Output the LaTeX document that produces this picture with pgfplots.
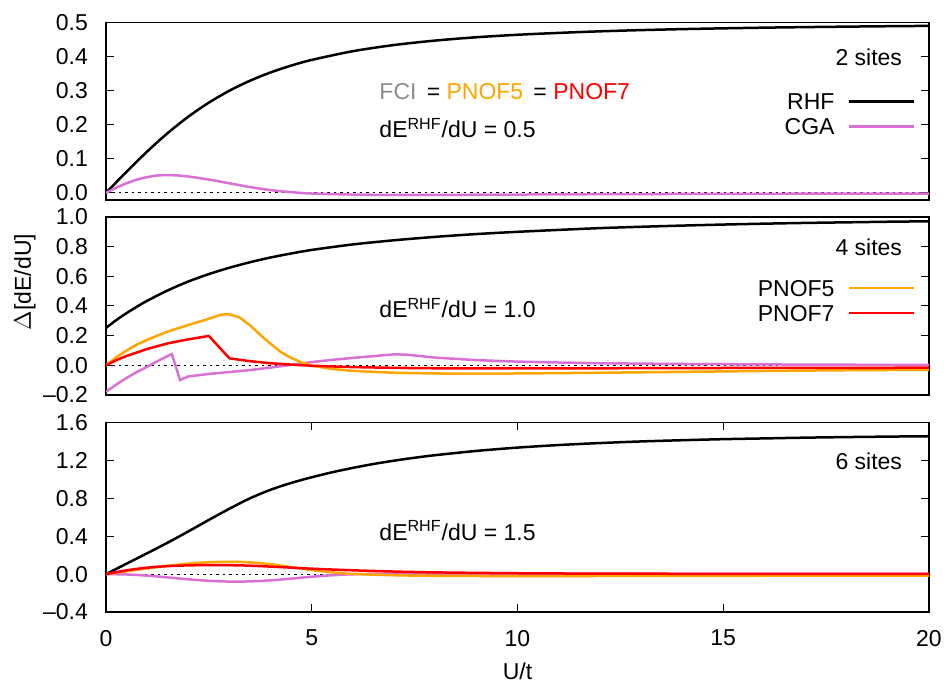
\documentclass[border=0pt]{standalone}
\usepackage{fontspec}
\setmainfont{Liberation Sans}
\usepackage{pgfplots}
\pgfplotsset{compat=1.18}
\definecolor{cga}{HTML}{DA70D6}
\definecolor{pnf}{HTML}{FFA500}
\definecolor{pns}{HTML}{FF0000}
\definecolor{fci}{HTML}{8C8C8C}
\pgfplotsset{
  panel/.style={
    scale only axis, width=411.5pt, xmin=0, xmax=20,
    axis line style={line width=0.8pt},
    tick style={black, line width=0.5pt},
    major tick length=4pt,
    tick align=inside,
    /pgf/number format/assume math mode=true,
    yticklabel style={xshift=-5pt},
    xticklabel style={yshift=-5pt},
    legend plot pos=right,
    legend cell align=right,
    legend style={draw=none, fill=none, inner sep=0pt, outer sep=0pt,
      row sep=2.3pt, column sep=5.5pt,
      nodes={inner sep=1pt, text height=8.2pt, text depth=0pt}},
    legend image code/.code={\draw[##1] (0pt,0pt) -- (32.5pt,0pt);},
    every axis plot/.append style={line width=1.25pt},
  }
}
\begin{document}
\fontsize{11.5}{14}\selectfont
\begin{tikzpicture}
\useasboundingbox (-53pt,-36.5pt) rectangle (421.5pt,306pt);
% ---------------- panel 1: 2 sites
\begin{axis}[panel, at={(0pt,206pt)}, anchor=south west, height=88.7pt,
  ymin=-0.021, ymax=0.5, xtick=\empty,
  ytick={0,0.1,0.2,0.3,0.4,0.5}, yticklabels={0.0,0.1,0.2,0.3,0.4,0.5},
  legend style={at={(axis description cs:1,1)}, anchor=north east, xshift=-7pt, yshift=-34.4pt}]
\addplot[black, dotted, line width=0.5pt, forget plot] coordinates {(0,0) (20,0)};
\addplot[black, smooth] coordinates {(0,0) (0.25,0.0312) (0.5,0.062) (1,0.1213) (1.5,0.1756) (2,0.2236) (2.5,0.265) (3,0.3) (3.5,0.3293) (4,0.3536) (4.5,0.3737) (5,0.3904) (6,0.416) (7,0.4341) (8,0.4472) (9,0.4569) (10,0.4642) (11,0.4697) (12,0.4743) (13,0.4779) (14,0.4808) (15,0.4831) (16,0.4851) (17,0.4867) (18,0.4881) (19,0.4893) (20,0.4903)};
\addlegendentry{RHF}
\addplot[cga, smooth] coordinates {(0,0) (0.25,0.015) (0.5,0.028) (0.75,0.039) (1,0.046) (1.25,0.051) (1.5,0.052) (1.75,0.051) (2,0.048) (2.5,0.039) (3,0.028) (3.5,0.017) (4,0.008) (4.5,0.002) (5,-0.002) (6,-0.005) (7,-0.006) (8,-0.006) (10,-0.005) (12,-0.004) (15,-0.003) (20,-0.002)};
\addlegendentry{CGA}
\node[anchor=east] at (axis cs:19.54,0.399) {2 sites};
\node[anchor=west] at (axis cs:6.45,0.296) {{\color{fci}FCI}\ \,=\ {\color{pnf}PNOF5}\ \,=\ {\color{pns}PNOF7}};
\node[anchor=west] at (axis cs:6.45,0.19) {dE\textsuperscript{RHF}/dU = 0.5};
\end{axis}
% ---------------- panel 2: 4 sites
\begin{axis}[panel, at={(0pt,108.5pt)}, anchor=south west, height=89pt,
  ymin=-0.2, ymax=1.0, xtick=\empty,
  ytick={-0.2,0,0.2,0.4,0.6,0.8,1.0}, yticklabels={--0.2,0.0,0.2,0.4,0.6,0.8,1.0},
  ylabel={$\Delta$[dE/dU]},
  ylabel style={at={(axis description cs:-0.0984,0.635)}, anchor=center},
  legend style={at={(axis description cs:1,1)}, anchor=north east, xshift=-7pt, yshift=-30.4pt}]
\addplot[black, dotted, line width=0.5pt, forget plot] coordinates {(0,0) (20,0)};
\addplot[black, smooth, forget plot] coordinates {(0,0.252) (0.25,0.305) (0.5,0.352) (0.75,0.395) (1,0.435) (1.5,0.505) (2,0.565) (2.5,0.615) (3,0.658) (3.5,0.695) (4,0.727) (4.5,0.754) (5,0.778) (6,0.815) (7,0.843) (8,0.866) (9,0.885) (10,0.90) (11,0.913) (12,0.925) (13,0.934) (14,0.942) (15,0.949) (16,0.955) (17,0.96) (18,0.964) (19,0.968) (20,0.971)};
\addplot[cga, forget plot] coordinates {(0,-0.178) (0.25,-0.13) (0.5,-0.085) (0.75,-0.045) (1,-0.01) (1.3,0.035) (1.6,0.076) (1.8,-0.099) (2.0,-0.075) (2.5,-0.058) (3,-0.045) (3.5,-0.032) (4,-0.015) (4.5,0.003) (5,0.022) (5.5,0.037) (6,0.05) (6.5,0.062) (7,0.074) (7.3,0.072) (8,0.052) (9,0.035) (10,0.025) (11,0.019) (12,0.014) (14,0.009) (16,0.006) (18,0.004) (20,0.003)};
\addplot[pnf] coordinates {(0,0) (0.25,0.055) (0.5,0.10) (0.75,0.14) (1,0.172) (1.5,0.228) (2,0.272) (2.4,0.305) (2.8,0.342) (3.0,0.344) (3.25,0.322) (3.5,0.27) (3.75,0.205) (4,0.145) (4.25,0.09) (4.5,0.05) (4.75,0.02) (5,-0.002) (5.5,-0.025) (6,-0.038) (7,-0.05) (8,-0.055) (9,-0.056) (10,-0.055) (12,-0.05) (14,-0.044) (16,-0.038) (18,-0.033) (20,-0.03)};
\addlegendentry{PNOF5}
\addplot[pns] coordinates {(0,0) (0.25,0.035) (0.5,0.063) (1,0.11) (1.5,0.148) (2,0.175) (2.5,0.198) (3.0,0.047) (3.5,0.028) (4,0.014) (4.5,0.005) (5,-0.003) (6,-0.012) (7,-0.017) (8,-0.02) (10,-0.021) (12,-0.02) (15,-0.018) (20,-0.016)};
\addlegendentry{PNOF7}
\node[anchor=east] at (axis cs:19.54,0.798) {4 sites};
\node[anchor=west] at (axis cs:6.45,0.386) {dE\textsuperscript{RHF}/dU = 1.0};
\end{axis}
% ---------------- panel 3: 6 sites
\begin{axis}[panel, at={(0pt,0pt)}, anchor=south west, height=94.75pt,
  ymin=-0.4, ymax=1.6, xtick={0,5,10,15,20}, xticklabels={0,5,10,15,20},
  ytick={-0.4,0,0.4,0.8,1.2,1.6}, yticklabels={--0.4,0.0,0.4,0.8,1.2,1.6},
  xlabel={U/t},
  xlabel style={at={(axis description cs:0.5,-0.315)}, anchor=center}]
\addplot[black, dotted, line width=0.5pt] coordinates {(0,0) (20,0)};
\addplot[black, smooth] coordinates {(0,0) (0.5,0.11) (1,0.22) (1.5,0.332) (2,0.45) (2.5,0.572) (3,0.69) (3.5,0.80) (4,0.89) (4.5,0.962) (5,1.022) (5.5,1.075) (6,1.121) (6.5,1.162) (7,1.197) (7.5,1.228) (8,1.255) (9,1.30) (10,1.335) (11,1.362) (12,1.383) (13,1.40) (14,1.413) (15,1.424) (16,1.432) (17,1.44) (18,1.446) (19,1.451) (20,1.455)};
\addplot[cga, smooth] coordinates {(0,0) (0.5,-0.004) (1,-0.016) (1.5,-0.035) (2,-0.055) (2.5,-0.071) (3,-0.079) (3.5,-0.077) (4,-0.066) (4.5,-0.048) (5,-0.028) (5.5,-0.012) (6,-0.002) (7,0.005) (8,0.006) (10,0.005) (12,0.004) (15,0.003) (20,0.002)};
\addplot[pnf, smooth] coordinates {(0,0) (0.5,0.03) (1,0.06) (1.5,0.088) (2,0.11) (2.5,0.125) (3,0.13) (3.5,0.124) (4,0.104) (4.5,0.074) (5,0.043) (5.5,0.018) (6,0.002) (7,-0.012) (8,-0.018) (10,-0.021) (12,-0.02) (15,-0.018) (20,-0.015)};
\addplot[pns, smooth] coordinates {(0,0) (0.5,0.04) (1,0.068) (1.5,0.084) (2,0.092) (2.5,0.095) (3,0.094) (3.5,0.089) (4,0.079) (4.5,0.068) (5,0.057) (6,0.04) (7,0.027) (8,0.018) (10,0.009) (12,0.005) (15,0.003) (20,0.002)};
\node[anchor=east] at (axis cs:19.54,1.19) {6 sites};
\node[anchor=west] at (axis cs:6.45,0.463) {dE\textsuperscript{RHF}/dU = 1.5};
\end{axis}
\end{tikzpicture}
\end{document}
